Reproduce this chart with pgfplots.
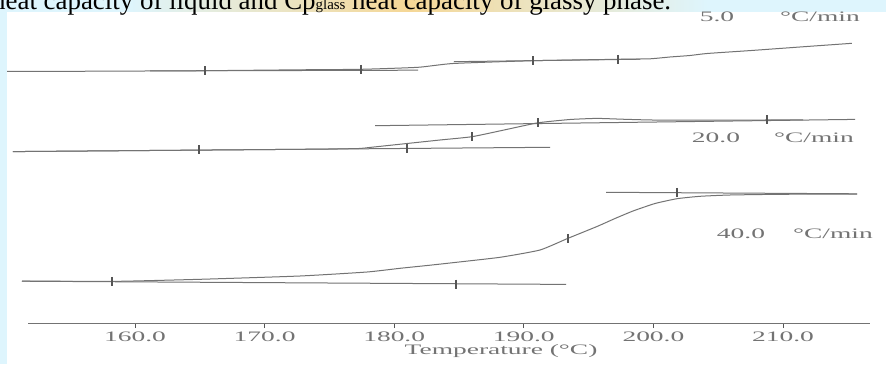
\documentclass[border=0pt]{standalone}
\usepackage{pgfplots}
\pgfplotsset{compat=1.18}
\usepackage{fontspec}
\setmainfont{Liberation Serif}
\usepackage{graphicx}
\definecolor{bgblue}{RGB}{222,245,253}
\definecolor{orng}{RGB}{245,215,150}
\definecolor{crv}{RGB}{115,115,115}
\definecolor{tk}{RGB}{85,85,85}
\definecolor{lbl}{RGB}{115,115,115}
\newcommand{\ct}[1]{\scalebox{1.9}[1]{#1}}
\pgfplotsset{
  ln/.style={crv, line width=1.0bp, no markers},
  tm/.style={only marks, mark=|, mark size=4.5bp, mark options={tk, line width=1.8bp}},
}
\begin{document}
\begin{tikzpicture}[x=1bp,y=1bp]
\fill[bgblue] (-28,-41) rectangle (858,323);
\shade[left color=bgblue, right color=orng] (100,310) rectangle (380,323);
\shade[left color=orng, right color=bgblue] (380,310) rectangle (680,323);
\fill[white] (-21,-41) rectangle (858,311);
\begin{scope}
\clip (-21,-41) rectangle (858,311);
\begin{axis}[
  at={(0,0)}, anchor=south west, scale only axis,
  width=842bp, height=308bp,
  xmin=151.744, xmax=216.713, ymin=0, ymax=308, clip=false,
  axis x line*=bottom, axis y line=none,
  axis line style={crv, line width=1bp},
  xtick={160,170,180,190,200,210},
  xticklabels={\ct{160.0},\ct{170.0},\ct{180.0},\ct{190.0},\ct{200.0},\ct{210.0}},
  tick align=outside, major tick length=5bp,
  xtick style={tk, line width=1bp},
  xticklabel style={font=\fontsize{14.5}{17}\selectfont, text=lbl, anchor=base},
  xticklabel shift=13.5bp,
  xlabel={\ct{Temperature (°C)}},
  xlabel style={font=\fontsize{14.5}{17}\selectfont, text=lbl, at={(axis description cs:0.5618,0)}, anchor=base, yshift=-31.5bp},
]
% 5.0 C/min
\addplot[ln, smooth, tension=0.3] coordinates {
(150.12,251.5) (157.30,251.8) (165.40,252.3) (172.73,253.2) (177.44,253.7) (181.84,255.7) (184.54,259.5) (190.71,262.3) (197.27,263.7) (199.74,264.2) (201.28,266.0) (202.82,267.5) (204.14,269.5) (207.45,272.4) (211.31,276.0) (215.32,279.7)};
\addplot[ln] coordinates {(161.16,252.1) (181.84,252.8)};
\addplot[ln] coordinates {(184.61,261.3) (198.97,263.8)};
\addplot[tm] coordinates {(165.40,252.3) (177.44,253.5) (190.71,262.3) (197.27,263.7)};
% 20.0 C/min
\addplot[ln, smooth, tension=0.3] coordinates {
(150.586,171.4) (164.938,172.9) (172.731,173.7) (177.130,174.4) (178.287,175.8) (180.988,179.5) (183.534,183.0) (186.003,186.3) (188.549,193.2) (191.096,200.2) (193.565,203.5) (195.648,204.6) (197.809,203.7) (200.509,202.9) (208.765,203.0) (211.543,203.0)};
\addplot[ln] coordinates {(150.586,171.4) (192.022,175.7)};
\addplot[ln] coordinates {(178.519,197.3) (215.556,203.6)};
\addplot[tm] coordinates {(164.938,173.0) (180.988,174.8) (186.003,186.3) (191.096,200.2) (208.765,203.0)};
% 40.0 C/min
\addplot[ln, smooth, tension=0.3] coordinates {
(151.281,42.0) (158.225,41.6) (165.015,43.7) (172.731,47.0) (177.901,51.0) (180.448,54.7) (182.762,57.8) (184.306,60.0) (188.164,65.7) (191.250,73.0) (193.410,84.7) (195.648,96.5) (197.037,104.5) (198.426,112.0) (200.123,119.5) (201.821,124.3) (203.596,126.7) (205.910,128.0) (209.769,128.7) (215.710,129.0)};
\addplot[ln] coordinates {(151.281,41.8) (193.256,38.6)};
\addplot[ln] coordinates {(196.343,130.7) (215.710,129.2)};
\addplot[tm] coordinates {(158.225,41.6) (184.769,38.8) (193.410,84.7) (201.821,130.6)};
% rate labels
\node[anchor=base, text=lbl, font=\fontsize{14.5}{17}\selectfont] at (axis cs:204.907,301.5) {\ct{5.0}};
\node[anchor=base, text=lbl, font=\fontsize{14.5}{17}\selectfont] at (axis cs:212.855,301.5) {\ct{°C/min}};
\node[anchor=base, text=lbl, font=\fontsize{14.5}{17}\selectfont] at (axis cs:204.830,180.3) {\ct{20.0}};
\node[anchor=base, text=lbl, font=\fontsize{14.5}{17}\selectfont] at (axis cs:212.392,180.3) {\ct{°C/min}};
\node[anchor=base, text=lbl, font=\fontsize{14.5}{17}\selectfont] at (axis cs:206.759,84.7) {\ct{40.0}};
\node[anchor=base, text=lbl, font=\fontsize{14.5}{17}\selectfont] at (axis cs:213.858,84.7) {\ct{°C/min}};
\end{axis}
\end{scope}
\node[anchor=base west, inner sep=0, font=\fontsize{27}{30}\selectfont] at (-36,313.5) {heat capacity of liquid and Cp{\fontsize{15}{15}\selectfont glass} heat capacity of glassy phase.};
\pgfresetboundingbox
\useasboundingbox (-28,-41) rectangle (858,323);
\end{tikzpicture}
\end{document}
